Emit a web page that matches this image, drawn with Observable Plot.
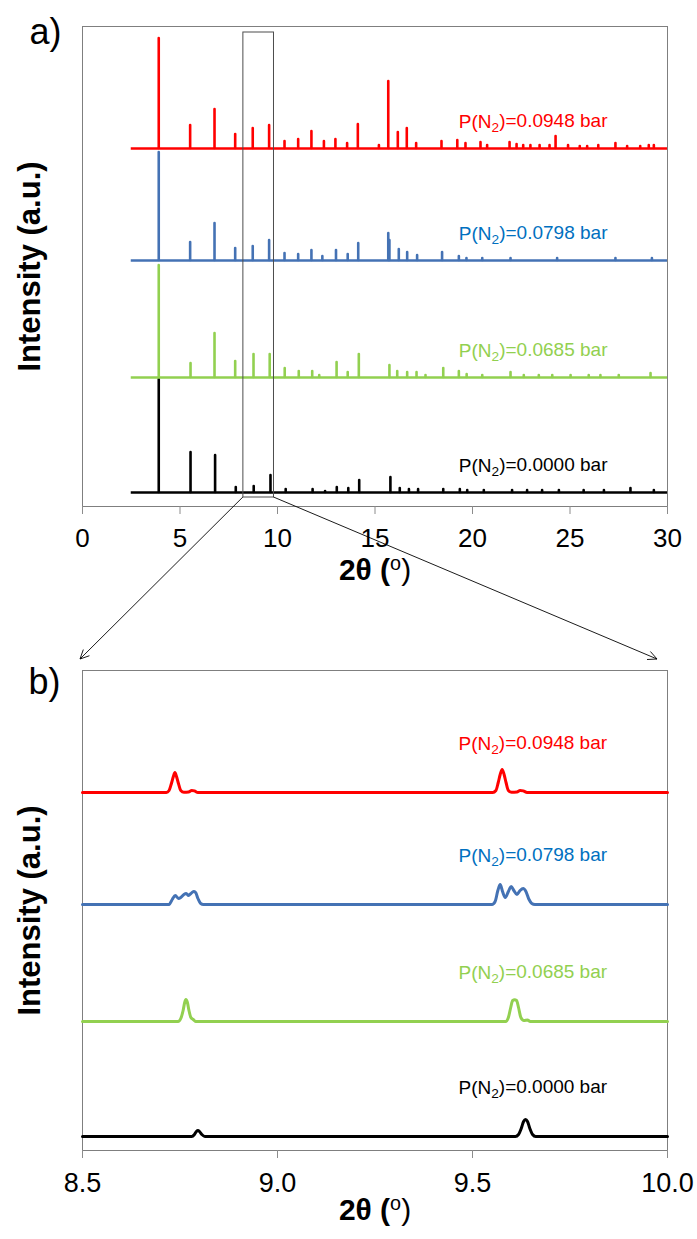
<!DOCTYPE html>
<html><head><meta charset="utf-8">
<script src="https://cdn.jsdelivr.net/npm/d3@7"></script>
<script src="https://cdn.jsdelivr.net/npm/@observablehq/plot@0.6"></script>
<style>
body{margin:0;background:#fff;}
#chart{position:relative;width:697px;height:1239px;font-family:"Liberation Sans",Arial,sans-serif;}
#chart svg{position:absolute;left:0;}
</style></head><body><div id="chart"></div>
<script>
// ---------- data ----------
const seriesNames = ["P(N2)=0.0000 bar", "P(N2)=0.0685 bar", "P(N2)=0.0798 bar", "P(N2)=0.0948 bar"];
const offsets = [14, 129, 246, 358];           // vertical stacking offset (a.u.)
const scanRange = [2.5, 30];                   // measured 2θ range
const zoomBox = {x1: 8.25, x2: 9.82, y1: 9, y2: 474};

// panel a: peak position (2θ) and intensity (a.u.)
const peaksBlack = [[3.91,113],[5.54,40],[6.8,37],[7.86,5],[8.78,6],[9.64,17],[10.42,3],[11.8,3],[12.44,1],[13.04,5],[13.63,4],[14.19,12],[15.79,15],[16.27,4],[16.74,3],[17.21,3],[18.5,3],[19.35,3],[19.73,2],[20.58,2],[22.03,2],[22.8,2],[23.57,2],[24.43,2],[25.7,2],[26.74,2],[28.1,4],[29.3,2]];
const peaksGreen = [[3.91,112],[5.54,14],[6.77,44],[7.83,16],[8.77,23],[9.6,23],[10.37,9],[11.09,6],[11.78,6],[12.14,2],[13.03,15],[13.6,5],[14.17,23],[15.74,12],[16.14,6],[16.65,5],[17.13,5],[17.59,2],[18.5,9],[19.3,6],[19.7,3],[20.5,2],[21.95,5],[22.63,2],[23.4,2],[24.09,2],[25.03,2],[25.96,2],[26.56,2],[27.5,2],[29.13,4]];
const peaksBlue = [[3.91,108],[5.52,18],[6.77,37],[7.83,12],[8.73,14],[9.57,20],[10.36,7],[11.06,6],[11.74,10],[12.3,4],[13.0,10],[13.6,6],[14.14,17],[15.68,27],[15.74,20],[16.22,11],[16.65,8],[17.16,5],[18.44,8],[19.3,4],[19.69,2],[20.5,2],[21.95,2],[24.34,2],[27.33,2],[29.2,2]];
const peaksRed = [[3.91,110],[5.52,23],[6.77,39],[7.83,14],[8.73,20],[9.57,23],[10.36,7],[11.06,9],[11.74,17],[12.38,7],[12.97,9],[13.57,5],[14.12,24],[15.2,3],[15.68,67],[16.17,16],[16.63,20],[17.11,5],[18.41,7],[19.22,8],[19.64,5],[20.41,6],[20.75,3],[21.9,6],[22.26,4],[22.6,3],[22.97,3],[23.44,3],[23.95,3],[24.26,12],[24.9,3],[25.5,2],[25.88,2],[26.45,3],[27.33,5],[27.93,2],[28.6,2],[29.04,3],[29.3,3]];

// panel b: profile (2θ, intensity a.u.)
const profBlack = [[8.5,0],[8.78,0],[8.787,2],[8.792,5],[8.796,6],[8.8,5],[8.806,2],[8.814,0],[9.61,0],[9.618,2],[9.625,8],[9.631,15],[9.636,17],[9.641,15],[9.647,8],[9.654,2],[9.662,0],[10,0]];
const profGreen = [[8.5,0],[8.745,0],[8.752,3],[8.758,11],[8.762,19],[8.765,22],[8.769,19],[8.773,11],[8.778,4],[8.784,2],[8.79,0],[9.585,0],[9.592,4],[9.598,14],[9.603,21],[9.608,21.7],[9.613,21],[9.618,14],[9.624,4],[9.632,1],[9.641,1.5],[9.648,0],[10,0]];
const profBlue = [[8.5,0],[8.722,0],[8.73,5],[8.738,9],[8.746,6],[8.752,7],[8.76,10],[8.766,11],[8.772,9],[8.778,11],[8.785,13],[8.79,12],[8.796,6],[8.803,1],[8.81,0],[9.55,0],[9.558,3],[9.565,14],[9.571,20],[9.577,13],[9.584,7],[9.592,13],[9.599,18],[9.606,14],[9.614,10],[9.622,14],[9.63,16],[9.637,13],[9.645,5],[9.652,1],[9.66,0],[10,0]];
const profRed = [[8.5,0],[8.715,0],[8.722,2],[8.728,9],[8.733,16],[8.737,20],[8.741,16],[8.746,9],[8.752,2],[8.76,0.3],[8.772,0.5],[8.78,2],[8.787,1.6],[8.796,0],[9.552,0],[9.56,2],[9.566,10],[9.571,18],[9.576,23],[9.581,18],[9.586,10],[9.592,2],[9.6,0.3],[9.614,0.5],[9.622,2],[9.63,1.6],[9.64,0],[10,0]];

const ticksA = [0, 5, 10, 15, 20, 25, 30];
const ticksB = [8.5, 9.0, 9.5, 10.0];

// ---------- styles ----------
const lineColors = ["#000000", "#92D050", "#4472B4", "#FF0000"];
const labelColors = ["#000000", "#92D050", "#0070C0", "#FF0000"];
const FONT = "Liberation Sans, Arial, sans-serif";
const peaksA = [peaksBlack, peaksGreen, peaksBlue, peaksRed];
const profilesB = [profBlack, profGreen, profBlue, profRed];

// condensed face for panel a tick labels, if available
const ctx = document.createElement("canvas").getContext("2d");
ctx.font = "30px 'Liberation Sans Narrow', monospace";
const wN = ctx.measureText("0123456789").width;
ctx.font = "30px monospace";
const wM = ctx.measureText("0123456789").width;
const hasNarrow = Math.abs(wN - wM) > 1;
const tickFontA = hasNarrow ? "Liberation Sans Narrow, Liberation Sans, Arial, sans-serif" : FONT;
const tickSizeA = hasNarrow ? 30 : 26;

const chart = document.getElementById("chart");

// ---------- panel a ----------
const marksA = [Plot.frame({stroke: "#7f7f7f"})];
peaksA.forEach((pk, i) => {
  marksA.push(Plot.ruleY([offsets[i]], {y: d => d, x1: () => scanRange[0], x2: () => scanRange[1], stroke: lineColors[i], strokeWidth: 2.6}));
  marksA.push(Plot.ruleX(pk, {x: d => d[0], y1: () => offsets[i], y2: d => offsets[i] + d[1], stroke: lineColors[i], strokeWidth: 2.6, strokeLinecap: "round"}));
  marksA.push(Plot.text([seriesNames[i]], {x: () => 19.3, y: () => offsets[i] + 21, text: d => d, fill: labelColors[i], fontSize: 19, textAnchor: "start", lineAnchor: "bottom"}));
});
marksA.push(
  Plot.rect([zoomBox], {x1: "x1", x2: "x2", y1: "y1", y2: "y2", fill: "none", stroke: "#4d4d4d", strokeWidth: 1}),
  Plot.axisX({ticks: ticksA, tickSize: 8, tickPadding: 14, fontSize: tickSizeA, fontFamily: tickFontA, stroke: "#8c8c8c", fill: "#000", label: null}),
  Plot.text(["Intensity (a.u.)"], {frameAnchor: "left", rotate: -90, dx: -52, fontSize: 31, fontWeight: "bold", fill: "#000", textAnchor: "middle"}),
  Plot.text(["2θ (o)"], {frameAnchor: "bottom", dy: 73, fontSize: 30, fontWeight: "bold", fill: "#000"}),
  Plot.text(["a)"], {frameAnchor: "top-left", dx: -53, dy: 17, fontSize: 36, textAnchor: "start", lineAnchor: "bottom", fill: "#000"})
);
const plotA = Plot.plot({
  width: 697, height: 600,
  marginLeft: 82, marginRight: 30, marginTop: 26, marginBottom: 94,
  style: {background: "transparent", fontFamily: FONT, overflow: "visible"},
  x: {domain: [0, 30]},
  y: {domain: [0, 480], axis: null},
  marks: marksA
});
plotA.style.top = "0px";
chart.appendChild(plotA);

// ---------- panel b ----------
const marksB = [Plot.frame({stroke: "#7f7f7f"})];
profilesB.forEach((pr, i) => {
  marksB.push(Plot.line(pr, {x: d => d[0], y: d => offsets[i] + d[1], stroke: lineColors[i], strokeWidth: 3, curve: "monotone-x"}));
  marksB.push(Plot.text([seriesNames[i]], {x: () => 9.464, y: () => offsets[i] + 43, text: d => d, fill: labelColors[i], fontSize: 19, textAnchor: "start", lineAnchor: "bottom"}));
});
marksB.push(
  Plot.axisX({ticks: ticksB, tickFormat: d3.format(".1f"), tickSize: 8, tickPadding: 14, fontSize: 27, stroke: "#8c8c8c", fill: "#000", label: null}),
  Plot.text(["Intensity (a.u.)"], {frameAnchor: "left", rotate: -90, dx: -52, fontSize: 31, fontWeight: "bold", fill: "#000", textAnchor: "middle"}),
  Plot.text(["2θ (o)"], {frameAnchor: "bottom", dy: 69, fontSize: 30, fontWeight: "bold", fill: "#000"}),
  Plot.text(["b)"], {frameAnchor: "top-left", dx: -54, dy: 23, fontSize: 36, textAnchor: "start", lineAnchor: "bottom", fill: "#000"})
);
const topB = 640;
const plotB = Plot.plot({
  width: 697, height: 599,
  marginLeft: 82, marginRight: 30, marginTop: 30, marginBottom: 89,
  style: {background: "transparent", fontFamily: FONT, overflow: "visible"},
  x: {domain: [8.5, 10]},
  y: {domain: [0, 480], axis: null},
  marks: marksB
});
plotB.style.top = topB + "px";
chart.appendChild(plotB);

// ---------- rich text: subscripts / superscripts ----------
for (const svg of [plotA, plotB]) {
  d3.select(svg).selectAll("text").each(function () {
    const t = this.textContent;
    const sel = d3.select(this);
    if (/^P\(N2\)/.test(t)) {
      const rest = t.slice(5);
      sel.text(null);
      sel.append("tspan").text("P(N");
      sel.append("tspan").attr("font-size", "0.72em").attr("dy", "0.3em").text("2");
      sel.append("tspan").attr("dy", "-0.22em").text(")" + rest);
    } else if (t === "2θ (o)") {
      sel.text(null);
      sel.append("tspan").text("2θ (");
      sel.append("tspan").attr("font-size", "0.66em").attr("font-weight", "normal").attr("dy", "-0.5em").text("o");
      sel.append("tspan").attr("font-weight", "normal").attr("dy", "0.33em").text(")");
    }
  });
}

// ---------- connecting arrows ----------
const xA = plotA.scale("x"), yA = plotA.scale("y");
const xB = plotB.scale("x"), yB = plotB.scale("y");
const frameTopB = topB + yB.apply(480);
const arrows = [
  {from: [xA.apply(zoomBox.x1), yA.apply(zoomBox.y1)], to: [xB.apply(8.5) - 2, frameTopB - 11]},
  {from: [xA.apply(zoomBox.x2), yA.apply(zoomBox.y1)], to: [xB.apply(10) - 10, frameTopB - 11]}
];
const ov = d3.select(chart).append("svg").attr("width", 697).attr("height", 1239).style("top", "0px").style("pointer-events", "none");
arrows.forEach(a => {
  const [x0, y0] = a.from, [x1, y1] = a.to;
  ov.append("line").attr("x1", x0).attr("y1", y0).attr("x2", x1).attr("y2", y1).attr("stroke", "#000").attr("stroke-width", 0.9);
  const ang = Math.atan2(y1 - y0, x1 - x0), L = 10, s = 0.45;
  const p1 = [x1 - L * Math.cos(ang - s), y1 - L * Math.sin(ang - s)];
  const p2 = [x1 - L * Math.cos(ang + s), y1 - L * Math.sin(ang + s)];
  ov.append("path").attr("d", `M${p1}L${x1},${y1}L${p2}`).attr("fill", "none").attr("stroke", "#000").attr("stroke-width", 0.9);
});
</script></body></html>
